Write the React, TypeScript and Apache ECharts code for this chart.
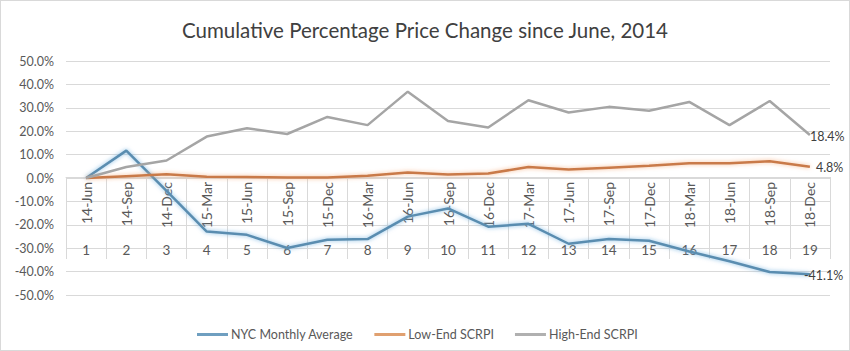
import React, { useEffect, useRef } from "react";
import * as echarts from "echarts";

const dateLabels = ["14-Jun","14-Sep","14-Dec","15-Mar","15-Jun","15-Sep","15-Dec","16-Mar","16-Jun","16-Sep","16-Dec","17-Mar","17-Jun","17-Sep","17-Dec","18-Mar","18-Jun","18-Sep","18-Dec"];
const indexLabels = ["1","2","3","4","5","6","7","8","9","10","11","12","13","14","15","16","17","18","19"];
const nycValues = [0, 11.7, -5.5, -22.9, -24.3, -29.9, -26.4, -26.1, -16.5, -13.0, -20.8, -19.6, -28.1, -26.1, -26.8, -31.4, -35.6, -40.2, -41.1];
const lowEndValues = [0, 0.8, 1.6, 0.5, 0.4, 0.2, 0.2, 1.0, 2.3, 1.5, 1.9, 4.7, 3.6, 4.4, 5.2, 6.3, 6.3, 7.2, 4.8];
const highEndValues = [0, 4.7, 7.5, 17.7, 21.3, 18.8, 26.1, 22.6, 36.9, 24.4, 21.6, 33.2, 28.0, 30.4, 28.7, 32.5, 22.6, 32.9, 18.4];
const yTicks = { min: -50, max: 50, interval: 10 };

const FONT = "Lato, 'Open Sans', sans-serif";

export default function App() {
  const ref = useRef<HTMLDivElement>(null);
  useEffect(() => {
    if (!ref.current) return;
    const chart = echarts.init(ref.current, undefined, { renderer: "svg" });
    const mk = (
      name: string,
      data: number[],
      color: string,
      legendColor: string,
      glow: string | null,
      labelDistance: number,
      labelDy: number
    ) => ({
      name,
      type: "line",
      data,
      symbol: "none",
      xAxisIndex: 0,
      yAxisIndex: 0,
      lineStyle: {
        color,
        width: 2.5,
        ...(glow ? { shadowColor: glow, shadowBlur: 4 } : {}),
      },
      itemStyle: { color: legendColor },
      endLabel: {
        show: true,
        distance: labelDistance,
        offset: [0, labelDy],
        fontSize: 12.5,
        fontFamily: FONT,
        color: "#404040",
        formatter: (p: any) => `${Number(p.value).toFixed(1)}%`,
      },
    });
    chart.setOption({
      animation: false,
      backgroundColor: "#ffffff",
      textStyle: { fontFamily: FONT },
      title: {
        text: "Cumulative Percentage Price Change since June, 2014",
        left: "center",
        top: 13,
        textStyle: { fontFamily: FONT, fontSize: 20.5, fontWeight: "normal", color: "#404040" },
      },
      grid: { left: 65, right: 19, top: 60, bottom: 55 },
      legend: {
        left: 191,
        top: 322,
        icon: "rect",
        itemWidth: 31,
        itemHeight: 3,
        itemGap: 21,
        textStyle: { fontFamily: FONT, fontSize: 12.5, color: "#595959", padding: [0, 0, 0, -2] },
        data: ["NYC Monthly Average", "Low-End SCRPI", "High-End SCRPI"],
      },
      xAxis: [
        {
          type: "category",
          data: dateLabels,
          boundaryGap: true,
          position: "bottom",
          offset: -118,
          axisLine: { show: true, onZero: false, lineStyle: { color: "#d9d9d9", width: 1 } },
          axisTick: { show: true, length: 82, interval: 0, lineStyle: { color: "#d9d9d9" } },
          axisLabel: { rotate: 90, interval: 0, margin: 5, fontSize: 14, fontFamily: FONT, color: "#595959" },
          splitLine: { show: false },
        },
        {
          type: "category",
          data: indexLabels,
          boundaryGap: true,
          position: "bottom",
          offset: -59,
          axisLine: { show: false, onZero: false },
          axisTick: { show: false },
          axisLabel: { interval: 0, margin: 7, fontSize: 13.5, fontFamily: FONT, color: "#595959" },
          splitLine: { show: false },
        },
      ],
      yAxis: {
        type: "value",
        min: yTicks.min,
        max: yTicks.max,
        interval: yTicks.interval,
        axisLine: { show: false },
        axisTick: { show: false },
        axisLabel: {
          margin: 12,
          fontSize: 12.5,
          fontFamily: FONT,
          color: "#595959",
          formatter: (v: number) => `${v.toFixed(1)}%`,
        },
        splitLine: { lineStyle: { color: "#d9d9d9", width: 1 } },
      },
      series: [
        mk("NYC Monthly Average", nycValues, "#5a8db0", "#6f9fc0", "rgba(120,180,225,0.9)", -6, 1),
        mk("Low-End SCRPI", lowEndValues, "#c97a48", "#e0a070", "rgba(245,170,120,0.8)", 6, 1),
        mk("High-End SCRPI", highEndValues, "#a5a5a5", "#b0b0b0", null, 0, 2),
      ],
    });
    return () => chart.dispose();
  }, []);
  return (
    <div
      style={{
        position: "fixed",
        left: 0,
        top: 0,
        width: 850,
        height: 351,
        boxSizing: "border-box",
        border: "1px solid #d9d9d9",
        background: "#fff",
      }}
    >
      <div ref={ref} style={{ width: 848, height: 349 }} />
    </div>
  );
}
